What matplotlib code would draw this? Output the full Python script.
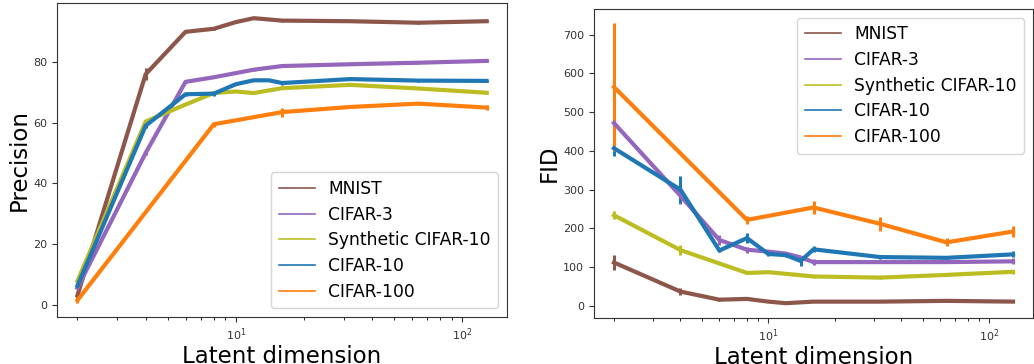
import matplotlib
matplotlib.use("Agg")
import matplotlib.pyplot as plt
from matplotlib.lines import Line2D

names = ["MNIST", "CIFAR-3", "Synthetic CIFAR-10", "CIFAR-10", "CIFAR-100"]
colors = ["#8c564b", "#9467bd", "#bcbd22", "#1f77b4", "#ff7f0e"]

# ---- Precision (left) ----
prec_x_mnist = [2, 4, 6, 8, 10, 12, 16, 32, 64, 128]
prec_mnist = [3, 76, 90, 91, 93.2, 94.5, 93.7, 93.5, 93.0, 93.5]
prec_mnist_err = [1, 2, 0.5, 0.5, 0.3, 0.3, 0.3, 0.3, 0.3, 0.3]

prec_x_c3 = [2, 4, 6, 8, 12, 16, 32, 64, 128]
prec_c3 = [5.5, 50, 73.5, 75, 77.5, 78.7, 79.3, 79.8, 80.4]
prec_c3_err = [0.5, 0.5, 0.5, 0.3, 0.3, 0.3, 0.3, 0.3, 0.5]

prec_x_syn = [2, 4, 6, 8, 10, 12, 16, 32, 64, 128]
prec_syn = [7.8, 60.4, 66, 69.8, 70.3, 69.8, 71.4, 72.5, 71.3, 69.9]
prec_syn_err = [0.5, 0.5, 0.3, 0.3, 0.3, 0.3, 0.3, 0.3, 0.3, 0.3]

prec_x_c10 = [2, 4, 6, 8, 10, 12, 14, 16, 32, 64, 128]
prec_c10 = [6.2, 59, 69.4, 69.6, 72.7, 74.0, 74.0, 73.1, 74.4, 73.9, 73.8]
prec_c10_err = [0.8, 0.8, 0.5, 0.8, 0.3, 0.3, 0.3, 0.5, 0.3, 0.3, 0.3]

prec_x_c100 = [2, 8, 16, 32, 64, 128]
prec_c100 = [1.4, 59.5, 63.5, 65.2, 66.3, 65.0]
prec_c100_err = [0.8, 0.8, 1.5, 0.3, 0.3, 0.8]

# ---- FID (right) ----
fid_x_mnist = [2, 4, 6, 8, 10, 12, 16, 32, 64, 128]
fid_mnist = [112, 37, 16, 18, 11, 7, 11, 11, 13, 11]
fid_mnist_err = [20, 8, 3, 3, 2, 2, 2, 2, 2, 2]

fid_x_c3 = [2, 4, 6, 8, 10, 12, 14, 16, 32, 64, 128]
fid_c3 = [472, 284, 170, 145, 140, 135, 125, 113, 113, 113, 115]
fid_c3_err = [8, 20, 12, 8, 5, 5, 5, 8, 3, 3, 8]

fid_x_syn = [2, 4, 8, 10, 16, 32, 64, 128]
fid_syn = [234, 144, 85, 87, 76, 73, 80, 88]
fid_syn_err = [10, 12, 3, 3, 4, 4, 3, 5]

fid_x_c10 = [2, 4, 6, 8, 10, 12, 14, 16, 32, 64, 128]
fid_c10 = [407, 300, 143, 175, 134, 131, 116, 146, 126, 124, 133]
fid_c10_err = [20, 35, 5, 12, 5, 5, 12, 8, 4, 4, 8]

fid_x_c100 = [2, 8, 16, 32, 64, 128]
fid_c100 = [565, 222, 254, 212, 164, 192]
fid_c100_err = [165, 10, 18, 18, 10, 15]

prec = [(prec_x_mnist, prec_mnist, prec_mnist_err),
        (prec_x_c3, prec_c3, prec_c3_err),
        (prec_x_syn, prec_syn, prec_syn_err),
        (prec_x_c10, prec_c10, prec_c10_err),
        (prec_x_c100, prec_c100, prec_c100_err)]
fid = [(fid_x_mnist, fid_mnist, fid_mnist_err),
       (fid_x_c3, fid_c3, fid_c3_err),
       (fid_x_syn, fid_syn, fid_syn_err),
       (fid_x_c10, fid_c10, fid_c10_err),
       (fid_x_c100, fid_c100, fid_c100_err)]

W, H = 1034, 364
fig = plt.figure(figsize=(W / 100, H / 100), dpi=100)
ax1 = fig.add_axes([57 / W, (H - 317) / H, 450 / W, 314 / H])
ax2 = fig.add_axes([594 / W, (H - 318) / H, 439 / W, 309 / H])

for ax, data, ylabel, loc in [(ax1, prec, "Precision", "lower right"),
                              (ax2, fid, "FID", "upper right")]:
    for (x, y, e), c in zip(data, colors):
        ax.errorbar(x, y, yerr=e, color=c, lw=3, elinewidth=2.2, capsize=0)
    ax.set_xscale("log")
    ax.set_xlabel("Latent dimension", fontsize=16.5, labelpad=1)
    ax.set_ylabel(ylabel, fontsize=16.5, labelpad=2)
    ax.tick_params(labelsize=8, colors="#333333", labelcolor="#333333")
    for s in ax.spines.values():
        s.set_color("#333333")
    handles = [Line2D([], [], color=c, lw=1.2) for c in colors]
    ax.legend(handles, names, loc=loc, fontsize=12.3, labelspacing=0.45,
              handlelength=2.1, borderpad=0.45)

fig.savefig("out.png", dpi=100)
